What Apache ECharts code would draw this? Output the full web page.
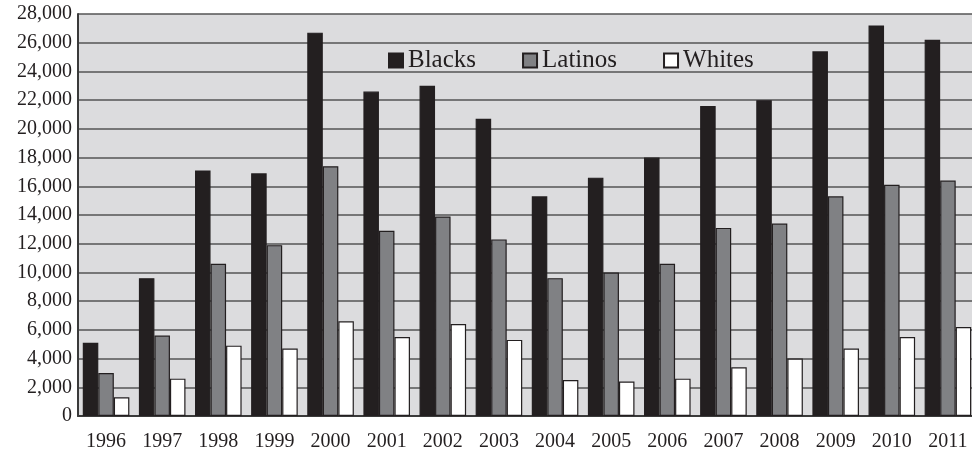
<!DOCTYPE html>
<html>
<head>
<meta charset="utf-8">
<script src="https://cdn.jsdelivr.net/npm/echarts@6/dist/echarts.min.js"></script>
<style>
  html, body { margin: 0; padding: 0; background: #ffffff; }
  #chart { width: 972px; height: 450px; }
</style>
</head>
<body>
<div id="chart"></div>
<script>
// Years on the category axis
const years = ['1996', '1997', '1998', '1999', '2000', '2001', '2002', '2003',
               '2004', '2005', '2006', '2007', '2008', '2009', '2010', '2011'];

// Counts per group
const blacks  = [5100, 9600, 17100, 16900, 26700, 22600, 23000, 20700,
                 15300, 16600, 18000, 21600, 22000, 25400, 27200, 26200];
const latinos = [3000, 5600, 10600, 11900, 17400, 12900, 13900, 12300,
                 9600, 10000, 10600, 13100, 13400, 15300, 16100, 16400];
const whites  = [1300, 2600, 4900, 4700, 6600, 5500, 6400, 5300,
                 2500, 2400, 2600, 3400, 4000, 4700, 5500, 6200];

const seriesNames = ['Blacks', 'Latinos', 'Whites'];
const seriesData = [blacks, latinos, whites];
const seriesColors = ['#231f20', '#808184', '#ffffff'];

const serif = '"Liberation Serif", "Times New Roman", serif';
const ink = '#231f20';

const chart = echarts.init(document.getElementById('chart'), null, { renderer: 'canvas' });

chart.setOption({
  animation: false,
  backgroundColor: '#ffffff',
  textStyle: { fontFamily: serif, color: ink },
  grid: {
    left: 78, right: -4, top: 14, bottom: 34,
    outerBoundsMode: 'none',
    containLabel: false,
    show: true,
    backgroundColor: '#dcdcde',
    borderWidth: 0
  },
  legend: {
    data: seriesNames,
    left: 383,
    top: 43,
    icon: 'rect',
    itemWidth: 14,
    itemHeight: 14,
    itemGap: 46,
    textStyle: { fontFamily: serif, fontSize: 25, color: ink }
  },
  xAxis: {
    type: 'category',
    data: years,
    axisLine: { show: true, lineStyle: { color: '#3a3a3a', width: 2 } },
    axisTick: { show: false },
    axisLabel: { fontFamily: serif, fontSize: 20, color: ink, margin: 16 },
    splitLine: { show: false }
  },
  yAxis: {
    type: 'value',
    min: 0,
    max: 28000,
    interval: 2000,
    axisLine: { show: true, lineStyle: { color: '#3a3a3a', width: 2 } },
    axisTick: { show: false },
    axisLabel: {
      fontFamily: serif, fontSize: 20, color: ink, margin: 6,
      formatter: v => v.toLocaleString('en-US')
    },
    splitLine: { show: true, lineStyle: { color: '#555555', width: 1.5 } }
  },
  series: seriesNames.map((name, i) => ({
    name,
    type: 'bar',
    data: seriesData[i],
    barGap: '0%',
    barCategoryGap: '17%',
    itemStyle: { color: seriesColors[i], borderColor: '#231f20', borderWidth: 1.2 }
  }))
});
</script>
</body>
</html>
